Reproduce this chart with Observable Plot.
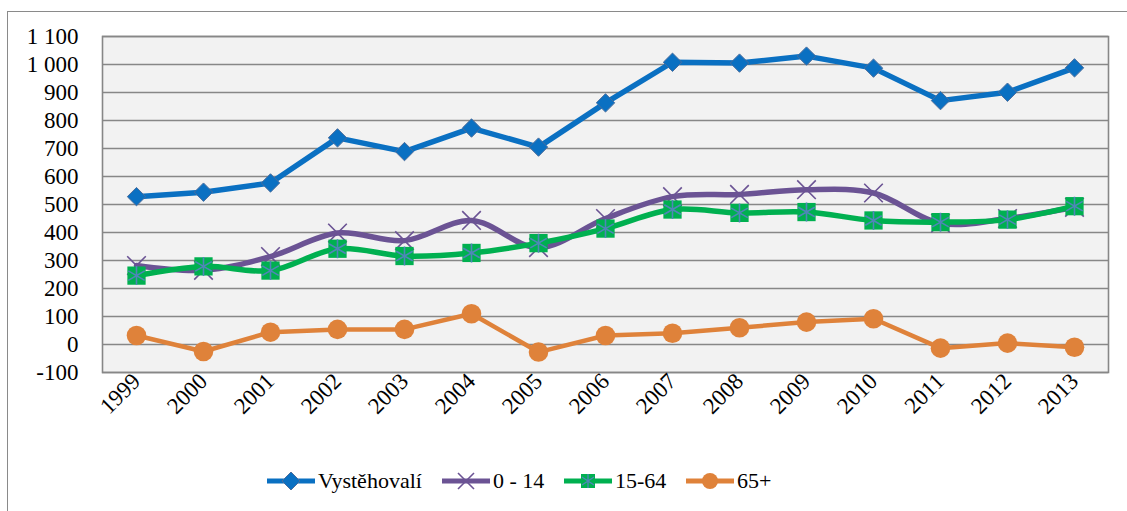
<!DOCTYPE html>
<html>
<head>
<meta charset="utf-8">
<script src="https://cdn.jsdelivr.net/npm/d3@7"></script>
<script src="https://cdn.jsdelivr.net/npm/@observablehq/plot@0.6"></script>
<style>
  html, body { margin: 0; padding: 0; background: #fff; width: 1127px; height: 511px; overflow: hidden; }
  #wrap { position: relative; width: 1127px; height: 511px; }
  #outer { position: absolute; left: 7px; top: 11px; width: 1200px; height: 600px; border-left: 1.5px solid #8a8a8a; border-top: 1.5px solid #8a8a8a; }
  #chart { position: absolute; left: 0; top: 0; }
  #legend { position: absolute; left: 0; top: 440px; width: 1127px; height: 71px; font-family: "Liberation Serif", Tinos, "Times New Roman", "DejaVu Serif", serif; font-size: 22px; color: #000; }
  .item { position: absolute; top: 28px; height: 26px; display: flex; align-items: center; }
  .item svg { display: block; margin-right: 3px; }
</style>
</head>
<body>
<div id="wrap">
  <div id="outer"></div>
  <div id="chart"></div>
  <div id="legend"></div>
</div>
<script>
const years = [1999, 2000, 2001, 2002, 2003, 2004, 2005, 2006, 2007, 2008, 2009, 2010, 2011, 2012, 2013];
const vystehovali = [528, 544, 577, 738, 689, 773, 705, 863, 1008, 1005, 1030, 987, 871, 901, 988];
const age0_14 = [282, 265, 314, 398, 371, 443, 346, 450, 528, 536, 553, 541, 433, 450, 490];
const age15_64 = [246, 279, 264, 342, 316, 327, 362, 414, 482, 470, 473, 443, 437, 446, 494];
const age65 = [32, -25, 44, 54, 54, 110, -27, 32, 40, 60, 80, 92, -13, 5, -10];
const seriesNames = ["Vystěhovalí", "0 - 14", "15-64", "65+"];
const yTicks = [-100, 0, 100, 200, 300, 400, 500, 600, 700, 800, 900, 1000, 1100];

const colors = {
  blue: "#0a70c2",
  purple: "#6b5394",
  green: "#00b050",
  orange: "#df823a",
  star: "#4f86b8"
};
const FONT = "'Liberation Serif', Tinos, 'Times New Roman', 'DejaVu Serif', serif";

const toRows = (vals) => years.map((y, i) => ({year: y, value: vals[i]}));
const dBlue = toRows(vystehovali);
const dPurple = toRows(age0_14);
const dGreen = toRows(age15_64);
const dOrange = toRows(age65);

const fmt = (d) => {
  const s = String(Math.abs(d)).replace(/\B(?=(\d{3})+(?!\d))/g, " ");
  return d < 0 ? "-" + s : s;
};

const plot = Plot.plot({
  width: 1127,
  height: 440,
  marginLeft: 102,
  marginRight: 19,
  marginTop: 36,
  marginBottom: 68,
  style: {fontFamily: FONT, fontSize: "23px", color: "#000", background: "transparent"},
  x: {type: "point", domain: years, padding: 0.5, label: null},
  y: {domain: [-100, 1100], label: null},
  marks: [
    Plot.frame({fill: "#f2f2f2"}),
    Plot.gridY(yTicks, {stroke: "#878787", strokeOpacity: 1, strokeWidth: 1.4}),
    Plot.frame({stroke: "#878787", strokeWidth: 1.6}),
    Plot.axisY(yTicks, {tickSize: 0, tickPadding: 24, tickFormat: fmt, fontSize: 23, label: null, fontFamily: FONT}),
    Plot.axisX({tickSize: 0, tickRotate: -45, tickPadding: 5, fontSize: 23, tickFormat: d => String(d), label: null, fontFamily: FONT}),
    // Vystěhovalí
    Plot.line(dBlue, {x: "year", y: "value", stroke: colors.blue, strokeWidth: 5.5}),
    Plot.dot(dBlue, {x: "year", y: "value", symbol: "diamond2", r: 8.3, fill: colors.blue, stroke: "#4b6d9c", strokeWidth: 1}),
    // 0 - 14
    Plot.line(dPurple, {x: "year", y: "value", stroke: colors.purple, strokeWidth: 5.5, curve: "catmull-rom"}),
    Plot.dot(dPurple, {x: "year", y: "value", symbol: "times", r: 8.5, stroke: colors.purple, strokeWidth: 1.6}),
    // 15-64
    Plot.line(dGreen, {x: "year", y: "value", stroke: colors.green, strokeWidth: 5.5, curve: "catmull-rom"}),
    Plot.dot(dGreen, {x: "year", y: "value", symbol: "square", r: 10.3, fill: colors.green, stroke: "none"}),
    Plot.dot(dGreen, {x: "year", y: "value", symbol: "asterisk", r: 9, stroke: colors.star, strokeWidth: 1.6}),
    // 65+
    Plot.line(dOrange, {x: "year", y: "value", stroke: colors.orange, strokeWidth: 4.5}),
    Plot.dot(dOrange, {x: "year", y: "value", r: 9.8, fill: colors.orange, stroke: "none"})
  ]
});
document.getElementById("chart").appendChild(plot);

// Legend
const legend = document.getElementById("legend");
const swatch = (kind) => {
  const W = 48, H = 26, cx = 24, cy = 13;
  let m = "";
  if (kind === 0) m = `<line x1="0" y1="${cy}" x2="${W}" y2="${cy}" stroke="${colors.blue}" stroke-width="5" stroke-linecap="round"/><path d="M${cx},${cy-9}L${cx+9},${cy}L${cx},${cy+9}L${cx-9},${cy}Z" fill="${colors.blue}" stroke="#4b6d9c"/>`;
  if (kind === 1) m = `<line x1="0" y1="${cy}" x2="${W}" y2="${cy}" stroke="${colors.purple}" stroke-width="5" stroke-linecap="round"/><path d="M${cx-8},${cy-8}L${cx+8},${cy+8}M${cx-8},${cy+8}L${cx+8},${cy-8}" stroke="${colors.purple}" stroke-width="1.6"/>`;
  if (kind === 2) m = `<line x1="0" y1="${cy}" x2="${W}" y2="${cy}" stroke="${colors.green}" stroke-width="5" stroke-linecap="round"/><rect x="${cx-7}" y="${cy-7}" width="14" height="14" fill="${colors.green}"/><path d="M${cx},${cy-7}L${cx},${cy+7}M${cx-6},${cy-4}L${cx+6},${cy+4}M${cx-6},${cy+4}L${cx+6},${cy-4}" stroke="${colors.star}" stroke-width="1.3"/>`;
  if (kind === 3) m = `<line x1="0" y1="${cy}" x2="${W}" y2="${cy}" stroke="${colors.orange}" stroke-width="5" stroke-linecap="round"/><circle cx="${cx}" cy="${cy}" r="8" fill="${colors.orange}"/>`;
  return `<svg width="${W}" height="${H}" viewBox="0 0 ${W} ${H}">${m}</svg>`;
};
const lefts = [267, 442, 564, 686];
seriesNames.forEach((name, i) => {
  const div = document.createElement("div");
  div.className = "item";
  div.style.left = lefts[i] + "px";
  div.innerHTML = swatch(i) + `<span>${name}</span>`;
  legend.appendChild(div);
});
</script>
</body>
</html>
